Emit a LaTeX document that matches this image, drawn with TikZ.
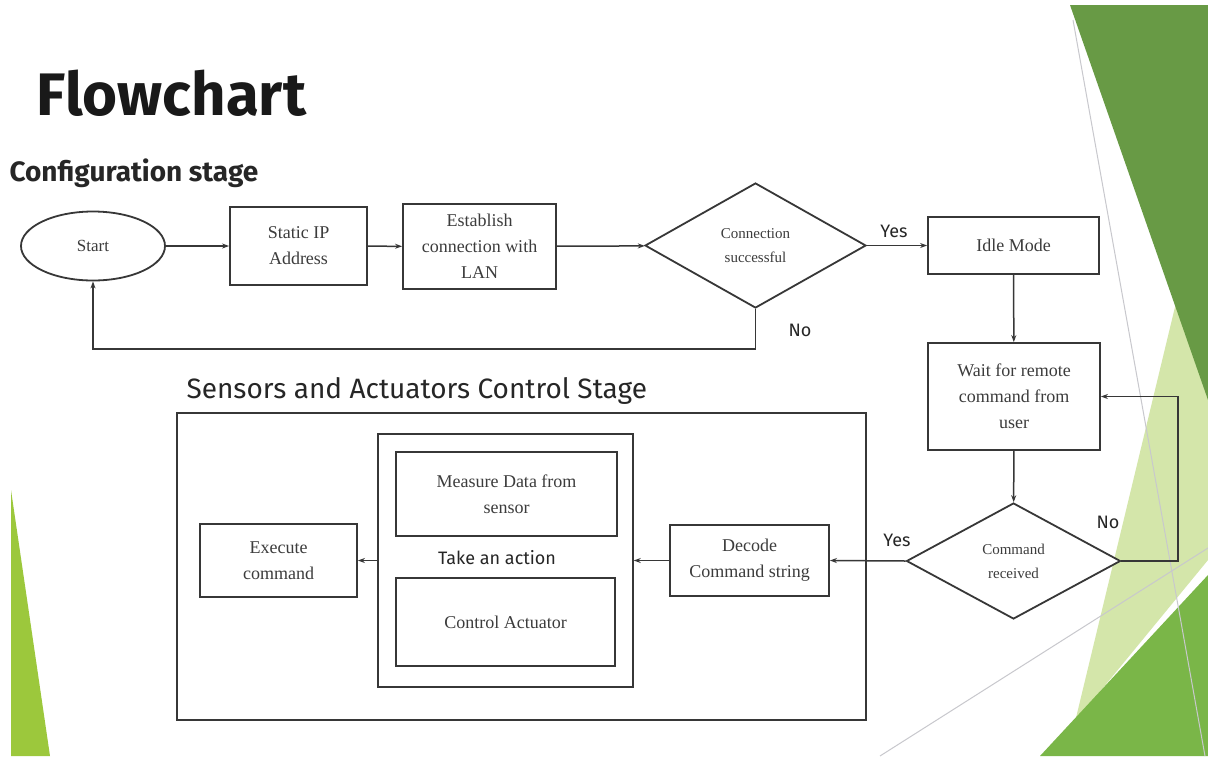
\documentclass[tikz,border=0pt]{standalone}
\usepackage{fontspec}
\setmainfont{Liberation Serif}
\newfontfamily\uisans{Fira Sans}
\usetikzlibrary{shapes.geometric,arrows.meta}
\definecolor{dkgreen}{RGB}{104,154,69}
\definecolor{mdgreen}{RGB}{122,182,72}
\definecolor{plgreen}{RGB}{212,230,170}
\definecolor{ylgreen}{RGB}{156,200,60}
\definecolor{linegray}{RGB}{55,55,55}
\definecolor{textgray}{RGB}{60,60,60}
\definecolor{thingray}{RGB}{200,200,205}
\begin{document}
\begin{tikzpicture}[x=1pt,y=-1pt,
  box/.style={draw=linegray,line width=1.8pt,fill=white,text=textgray,align=center,
    font=\fontsize{18}{26}\selectfont,inner sep=0pt},
  frame/.style={draw=linegray,line width=1.5pt,inner sep=0pt},
  decision/.style={diamond,aspect=1.77,draw=linegray,line width=1.8pt,fill=white,text=textgray,
    align=center,font=\fontsize{15}{24}\selectfont,inner sep=0pt},
  startend/.style={ellipse,draw=linegray,line width=1.8pt,fill=white,text=textgray,
    font=\fontsize{17}{20}\selectfont,inner sep=0pt},
  conn/.style={draw=linegray,line width=1.5pt,-{Stealth[length=7pt,width=5pt]}},
  lbl/.style={font=\uisans\fontsize{18}{20}\selectfont,text=black!85},
  heading/.style={font=\uisans\fontsize{28}{32}\selectfont,text=black!85}
]
\useasboundingbox (0,0) rectangle (1208,756);
\fill[white] (0,0) rectangle (1208,756);
% background decorations
\fill[plgreen] (1208,170) -- (1075,722) -- (1208,560) -- cycle;
\fill[dkgreen] (1070,5) -- (1208,5) -- (1208,400) -- cycle;
\fill[mdgreen] (1040,756) -- (1208,575) -- (1208,756) -- cycle;
\fill[ylgreen] (11,490) -- (50,756) -- (11,756) -- cycle;
\draw[thingray,line width=1pt] (1073,20) -- (1205,756);
\draw[thingray,line width=1pt] (880,756) -- (1208,548);

% titles
\node[anchor=west,font=\uisans\bfseries\fontsize{60}{64}\selectfont,text=black!90] (title) at (33,93) {Flowchart};
\node[anchor=west,heading,font=\uisans\bfseries\fontsize{28}{32}\selectfont] (cfg) at (6,173) {Configuration stage};
\node[anchor=west,heading] (sac) at (183,391) {Sensors and Actuators Control Stage};

% frames of the control stage
\node[frame,minimum width=689pt,minimum height=307pt] (outer) at (521.5,566.5) {};
\node[frame,minimum width=255pt,minimum height=253pt] (inner) at (505.5,560.5) {};

% configuration stage
\node[startend,minimum width=144pt,minimum height=69pt] (start) at (93,246) {Start};
\node[box,minimum width=137pt,minimum height=78pt] (ip) at (298.5,246) {Static IP\\Address};
\node[box,minimum width=153pt,minimum height=85pt] (lan) at (479.5,246.5) {Establish\\connection with\\LAN};
\node[decision,minimum width=221pt,minimum height=125pt] (ok) at (755.5,245.5) {Connection\\successful};
\node[box,minimum width=171pt,minimum height=57pt] (idle) at (1013.5,245.5) {Idle Mode};
\node[box,minimum width=172pt,minimum height=107pt] (wait) at (1014,396.5) {Wait for remote\\command from\\user};
\node[decision,minimum width=214pt,minimum height=116pt] (cmd) at (1013.5,561) {Command\\received};

% control stage
\node[box,minimum width=159pt,minimum height=71pt] (dec) at (749.5,560.5) {Decode\\Command string};
\node[box,minimum width=221pt,minimum height=84pt] (meas) at (506.5,494) {Measure Data from\\sensor};
\node[box,minimum width=219pt,minimum height=88pt] (act) at (505.5,622) {Control Actuator};
\node[lbl] (take) at (497,558) {Take an action};
\node[box,minimum width=157pt,minimum height=73pt] (exe) at (278.5,560.5) {Execute\\command};

% connectors
\draw[conn] (start) -- (ip);
\draw[conn] (ip) -- (lan);
\draw[conn] (lan) -- (ok);
\draw[conn] (ok) -- (idle) node[lbl,pos=0.45,above=4pt] (yes1) {Yes};
\coordinate (nob) at (755.5,349);
\draw[conn] (ok.south) -- (nob) -| (start.south);
\node[lbl] (no1) at (800,330) {No};
\draw[conn] (idle) -- (wait);
\draw[conn] (wait) -- (cmd);
\coordinate (noloop) at (1178,561);
\draw[conn] (cmd.east) -- (noloop) |- (wait.east);
\node[lbl] (no2) at (1108,522) {No};
\draw[conn] (cmd.west) -- (dec.east);
\node[lbl] (yes2) at (897,540) {Yes};
\draw[conn] (dec.west) -- (inner.east);
\draw[conn] (inner.west) -- (exe.east);
\end{tikzpicture}
\end{document}
